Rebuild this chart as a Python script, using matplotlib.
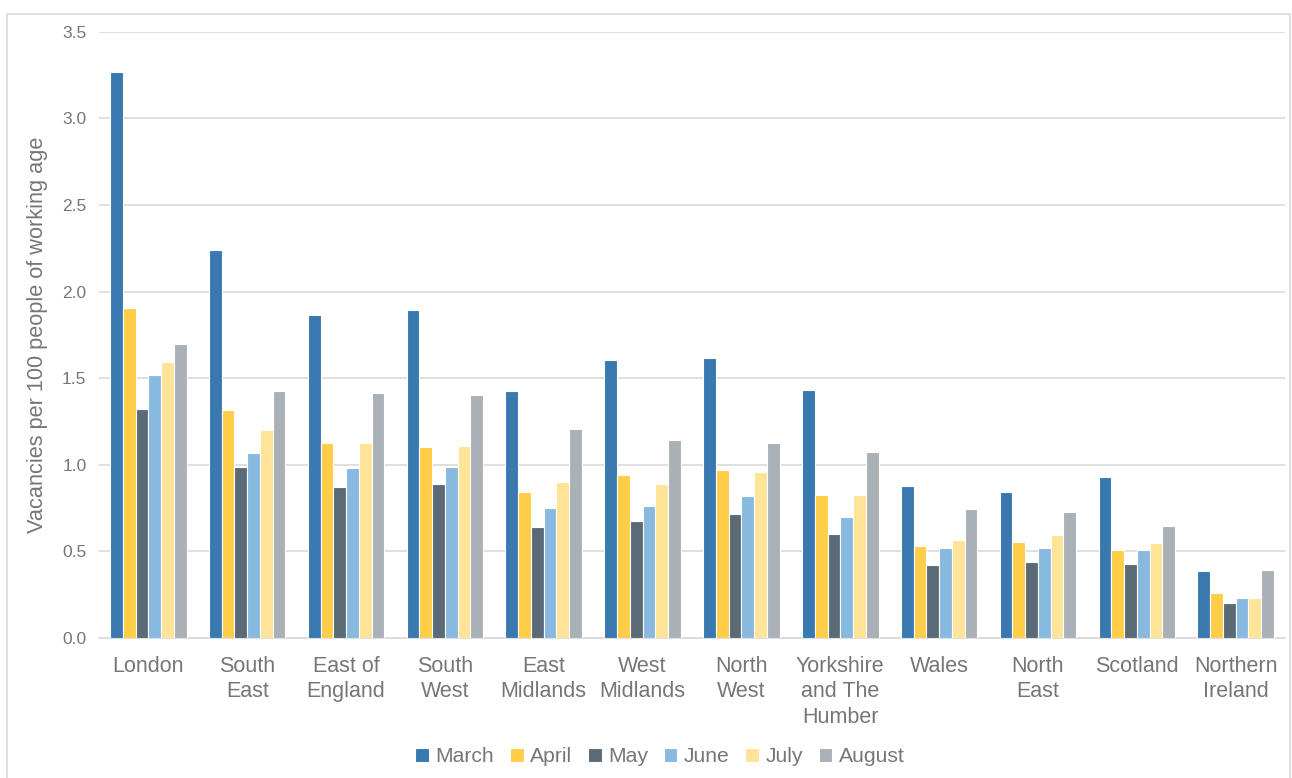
import matplotlib.pyplot as plt
import numpy as np
from matplotlib.patches import Rectangle

plt.rcParams['font.family'] = ['Liberation Sans', 'DejaVu Sans']

regions = ['London', 'South\nEast', 'East of\nEngland', 'South\nWest', 'East\nMidlands',
           'West\nMidlands', 'North\nWest', 'Yorkshire\nand The\nHumber', 'Wales',
           'North\nEast', 'Scotland', 'Northern\nIreland']
months = ['March', 'April', 'May', 'June', 'July', 'August']

march = [3.27, 2.24, 1.865, 1.895, 1.425, 1.605, 1.618, 1.432, 0.88, 0.842, 0.93, 0.385]
april = [1.905, 1.315, 1.125, 1.105, 0.845, 0.942, 0.97, 0.824, 0.532, 0.557, 0.507, 0.258]
may = [1.325, 0.985, 0.87, 0.888, 0.643, 0.674, 0.718, 0.603, 0.42, 0.436, 0.426, 0.202]
june = [1.52, 1.068, 0.982, 0.985, 0.749, 0.761, 0.82, 0.699, 0.518, 0.518, 0.507, 0.229]
july = [1.595, 1.199, 1.128, 1.109, 0.901, 0.892, 0.957, 0.824, 0.568, 0.597, 0.551, 0.233]
august = [1.695, 1.425, 1.415, 1.401, 1.205, 1.143, 1.128, 1.072, 0.743, 0.73, 0.647, 0.395]

series = [march, april, may, june, july, august]
colors = ['#3A78B0', '#FFCD47', '#5A6B77', '#88B9DE', '#FFE397', '#A9B0B6']
text_col = '#767676'

fig = plt.figure(figsize=(12.92, 7.78), dpi=100)
ax = fig.add_axes([0.0766, 0.18, 0.918, 0.779])

# outer chart border
fig.patches.append(Rectangle((7/1292, -0.01), 1283/1292, (778-14)/778 + 0.01,
                             transform=fig.transFigure, fill=False,
                             edgecolor='#D9D9D9', linewidth=1.2))

x = np.arange(len(regions))
w = 0.129
for i, (vals, c) in enumerate(zip(series, colors)):
    ax.bar(x + (i - 2.5) * w, vals, width=w, color=c, edgecolor='white',
           linewidth=0.8, label=months[i], zorder=3)

ax.set_xlim(-0.5, len(regions) - 0.5)
ax.set_ylim(0, 3.5)
ax.set_yticks(np.arange(0, 3.51, 0.5))
ax.set_yticklabels(['%.1f' % v for v in np.arange(0, 3.51, 0.5)])
ax.set_xticks(x)
ax.set_xticklabels(regions, fontsize=15.5, color=text_col, linespacing=1.27)
ax.tick_params(axis='both', length=0)
ax.tick_params(axis='y', labelsize=12.5, labelcolor=text_col, pad=9)
ax.tick_params(axis='x', pad=13)
ax.grid(axis='y', color='#D9D9D9', linewidth=1.2, zorder=0)
for s in ['top', 'right', 'left']:
    ax.spines[s].set_visible(False)
ax.spines['bottom'].set_color('#D9D9D9')
ax.spines['bottom'].set_linewidth(1.2)

ax.set_ylabel('Vacancies per 100 people of working age', fontsize=15.7,
              color=text_col, labelpad=10)

fig.legend(loc='center', bbox_to_anchor=(660/1292, (778-757)/778),
           ncol=6, frameon=False, fontsize=15.2, labelcolor=text_col,
           handlelength=0.65, handleheight=0.65, handletextpad=0.3,
           columnspacing=0.75)

fig.savefig('out.png', dpi=100, facecolor='white')
